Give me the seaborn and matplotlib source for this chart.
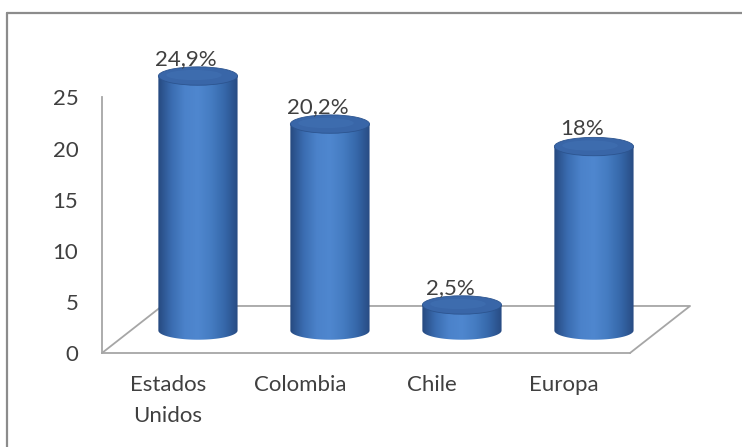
import numpy as np
import pandas as pd
import matplotlib
matplotlib.use("Agg")
import matplotlib.pyplot as plt
import seaborn as sns
from matplotlib.patches import Ellipse, Polygon
from matplotlib.lines import Line2D
from matplotlib.colors import LinearSegmentedColormap

# Data
regions = ["Estados\nUnidos", "Colombia", "Chile", "Europa"]
shares = [24.9, 20.2, 2.5, 18.0]
value_labels = ["24,9%", "20,2%", "2,5%", "18%"]
y_ticks = [0, 5, 10, 15, 20, 25]

sns.set_theme(style="white")
plt.rcParams["font.family"] = ["Lato", "DejaVu Sans"]

TEXT = "#404040"
FRAME = "#a6a6a6"

W, H = 742, 447
fig = plt.figure(figsize=(W / 100, H / 100), dpi=100)
fig.patch.set_facecolor("white")

# front plane: x -0.5 .. 3.5 spans the floor, y 0 .. 25 the value axis
ax = fig.add_axes([102 / W, 94 / H, 594 / W, 306.6 / H])
df = pd.DataFrame({"region": regions, "share": shares})
sns.barplot(data=df, x="region", y="share", ax=ax, width=0.6,
            color="#4f81bd", saturation=1, zorder=3)
ax.set_xlim(-0.5, 4.0)
ax.set_ylim(0, 30)

# pseudo-3D depth offsets (in data units)
depth_mid = (0.227, 2.2)
depth_back = (0.455, 4.6)
rim = 0.9  # half-height of the cylinder end ellipses

# floor outline (front edge is the bottom spine)
ax.plot([-0.5, -0.5 + depth_back[0], 3.5 + depth_back[0], 3.5],
        [0, depth_back[1], depth_back[1], 0],
        color=FRAME, lw=1.3, zorder=1, clip_on=False)

cyl_cmap = LinearSegmentedColormap.from_list(
    "cyl", ["#26497f", "#3a6cb0", "#4b82ca", "#4f87cf", "#457cc2",
            "#3668aa", "#284b82"])
grad = np.linspace(0, 1, 256)[None, :]

for bar, lab in zip(ax.patches, value_labels):
    w = bar.get_width()
    h = bar.get_height()
    x0 = bar.get_x() + depth_mid[0]
    y0 = bar.get_y() + depth_mid[1]
    bar.set_visible(False)

    # cylinder body: rectangle plus the lower half of the base ellipse
    t = np.linspace(np.pi, 2 * np.pi, 80)
    arc = np.column_stack([x0 + w / 2 + (w / 2) * np.cos(t),
                           y0 + rim * np.sin(t)])
    verts = np.vstack([[x0, y0 + h], arc, [x0 + w, y0 + h]])
    body = Polygon(verts, closed=True, fc="none", ec="none", zorder=3)
    ax.add_patch(body)
    im = ax.imshow(grad, cmap=cyl_cmap, extent=(x0, x0 + w, y0 - rim, y0 + h),
                   aspect="auto", interpolation="bilinear", zorder=3)
    im.set_clip_path(body)

    # top cap
    ax.add_patch(Ellipse((x0 + w / 2, y0 + h), w, 2 * rim,
                         fc="#3966a8", ec="#2c548f", lw=0.6, zorder=4))
    ax.add_patch(Ellipse((x0 + w / 2 - 0.03, y0 + h + 0.1), w * 0.7, rim * 1.1,
                         fc="#4272b4", ec="none", alpha=0.55, zorder=4))

    ax.text(x0 + w / 2 - 0.09, y0 + h + rim + 0.2, lab, ha="center",
            va="baseline", fontsize=16, color=TEXT, zorder=5)

ax.set_xlim(-0.5, 4.0)
ax.set_ylim(0, 30)
ax.set_yticks(y_ticks)
ax.set_yticklabels([str(v) for v in y_ticks])
ax.set_xlabel("")
ax.set_ylabel("")

for side in ["top", "right"]:
    ax.spines[side].set_visible(False)
ax.spines["left"].set_bounds(0, 25)
ax.spines["bottom"].set_bounds(-0.5, 3.5)
for side in ["left", "bottom"]:
    ax.spines[side].set_color(FRAME)
    ax.spines[side].set_linewidth(1.3)
    ax.spines[side].set_zorder(1)

ax.tick_params(axis="y", length=0, pad=17, labelsize=16, labelcolor=TEXT)
ax.tick_params(axis="x", length=0, pad=16, labelsize=16, labelcolor=TEXT)
for lbl in ax.get_xticklabels():
    lbl.set_linespacing(1.7)

# chart frame
fig.add_artist(Line2D([7.5 / W, 7.5 / W], [0, 1 - 12.5 / H],
                      transform=fig.transFigure, color="#8c8c8c", lw=1.6))
fig.add_artist(Line2D([7.5 / W, 1], [1 - 12.5 / H, 1 - 12.5 / H],
                      transform=fig.transFigure, color="#8c8c8c", lw=1.6))

fig.savefig("out.png", dpi=100)
